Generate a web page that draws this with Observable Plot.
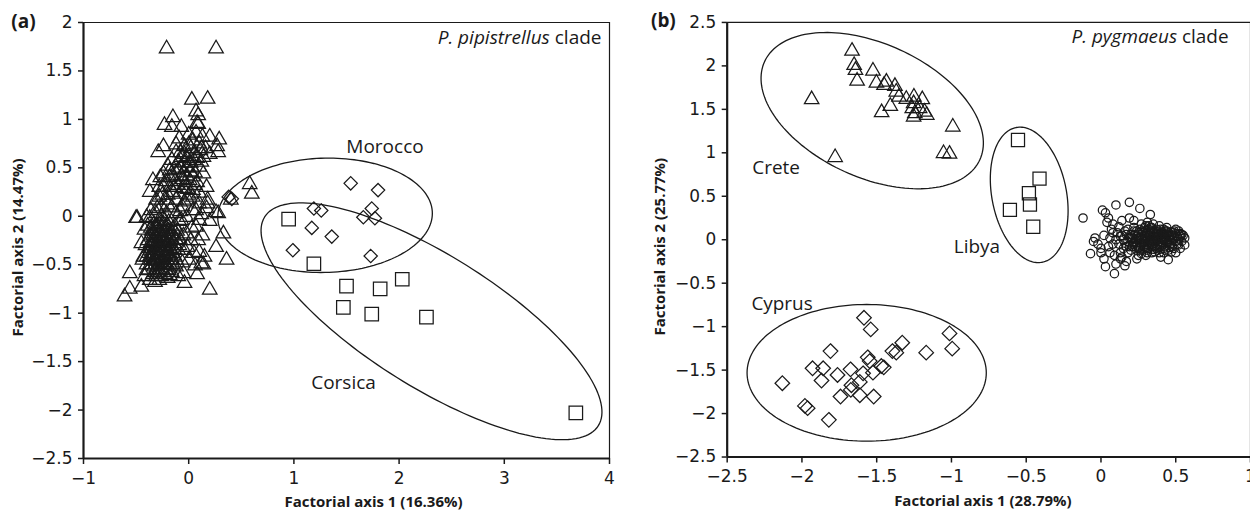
<!DOCTYPE html>
<html>
<head>
<meta charset="utf-8">
<script src="https://cdn.jsdelivr.net/npm/d3@7"></script>
<script src="https://cdn.jsdelivr.net/npm/@observablehq/plot@0.6"></script>
<style>
  html, body { margin: 0; padding: 0; background: #fff; }
  #wrap { position: relative; width: 1250px; height: 511px; overflow: hidden; background: #fff; }
  #panelA { position: absolute; left: 0; top: 0; }
  #panelB { position: absolute; left: 625px; top: 0; }
</style>
</head>
<body>
<div id="wrap"><div id="panelA"></div><div id="panelB"></div></div>
<script>
// ---------- Panel (a): P. pipistrellus clade ----------
const xTicksA = [-1, 0, 1, 2, 3, 4];
const yTicksA = [-2.5, -2, -1.5, -1, -0.5, 0, 0.5, 1, 1.5, 2];

// triangles (main group)
const pipTriangles = [
  [-0.21,1.73],[0.26,1.73],
  [0.03,1.20],[0.18,1.21],[0.07,1.08],[0.09,1.04],[0.08,0.96],[-0.15,1.02],[-0.23,0.94],[-0.16,0.92],
  [-0.07,0.92],[0.09,0.95],[0.20,0.82],[0.29,0.79],[0.28,0.66],[0.27,0.72],[-0.24,0.72],[-0.29,0.66],
  [-0.09,0.80],[-0.04,0.72],[0.10,0.75],[0.06,0.65],[0.14,0.61],[0.11,0.68],[-0.16,0.58],[-0.07,0.61],
  [-0.02,0.51],[0.10,0.51],[-0.12,0.66],[0.00,0.84],[0.04,0.78],
  [-0.02,0.60],[0.02,0.55],[0.06,0.45],[-0.05,0.45],[0.12,0.56],[0.16,0.70],[0.20,0.64],[0.13,0.82],
  [-0.10,0.56],[-0.18,0.47],
  [-0.08,0.50],[-0.04,0.55],[0.00,0.62],[0.03,0.50],[0.05,0.58],[-0.06,0.38],[-0.02,0.42],[0.01,0.37],
  [0.06,0.32],[-0.10,0.32],[-0.14,0.30],[-0.08,0.66],[0.02,0.70],[0.08,0.60],[-0.01,0.28],[0.04,0.20],
  [-0.04,0.15],[-0.08,0.05],[-0.18,0.40],[-0.24,0.30],[-0.20,0.22],[-0.28,0.20],[-0.30,0.08],[-0.20,0.12],
  [-0.14,0.48],[0.07,0.86],[0.12,0.70],[0.00,0.74],[-0.12,0.74],[-0.04,0.64],
  [-0.34,0.37],[-0.24,0.44],[-0.15,0.42],[-0.07,0.41],[0.04,0.41],[0.14,0.44],[-0.37,0.25],[-0.28,0.30],
  [-0.18,0.30],[-0.05,0.29],[0.04,0.27],[0.17,0.30],[0.18,0.17],[0.26,0.04],[0.10,0.13],[-0.01,0.17],
  [-0.12,0.17],[-0.21,0.17],[-0.31,0.17],[-0.49,-0.02],[-0.40,-0.01],[-0.31,0.03],[-0.21,0.03],
  [-0.12,0.03],[-0.02,-0.01],[0.07,0.06],[0.17,0.08],[-0.20,0.52],[-0.10,0.48],[0.02,0.46],[-0.27,0.40],
  [-0.22,0.36],[-0.13,0.36],[-0.03,0.35],[0.08,0.35],[-0.09,0.23],[0.00,0.22],[0.10,0.24],[-0.25,0.22],
  [-0.15,0.25],[0.12,0.02],[0.04,0.06],[-0.06,0.10],[-0.16,0.09],[-0.26,0.10],[-0.36,0.06],
  [0.40,0.17],[0.58,0.33],[0.60,0.23],[0.36,-0.45],[0.33,-0.18],[0.26,-0.32],[0.28,0.03],[0.20,-0.76],
  [0.12,-0.49],[0.06,-0.51],[0.10,-0.37],[0.09,-0.25],[0.07,-0.11],[0.10,-0.04],[0.18,0.13],
  [-0.56,-0.59],[-0.56,-0.75],[-0.61,-0.83],[-0.45,-0.73],[-0.28,-0.66],[-0.04,-0.69],[-0.05,-0.59],
  [-0.12,-0.45],[-0.01,-0.32],[-0.02,-0.18],[-0.07,-0.04],[-0.18,-0.61],[-0.40,-0.56],[-0.43,-0.42],
  [-0.45,-0.28],[-0.42,-0.14],[-0.37,-0.02],[-0.50,-0.02],
  [-0.40,-0.50],[-0.36,-0.45],[-0.33,-0.52],[-0.30,-0.40],[-0.27,-0.48],[-0.25,-0.35],[-0.22,-0.42],
  [-0.20,-0.30],[-0.18,-0.50],[-0.15,-0.38],[-0.35,-0.30],[-0.32,-0.22],[-0.29,-0.15],[-0.26,-0.25],
  [-0.23,-0.18],[-0.20,-0.10],[-0.17,-0.22],[-0.14,-0.28],[-0.38,-0.38],[-0.34,-0.60],[-0.30,-0.58],
  [-0.26,-0.62],[-0.22,-0.55],[-0.16,-0.58],[-0.12,-0.52],[-0.10,-0.35],[-0.08,-0.25],[-0.11,-0.15],
  [-0.28,-0.32],[-0.31,-0.28],[-0.24,-0.28],[-0.27,-0.40],[-0.33,-0.38],[-0.36,-0.20],[-0.39,-0.10],
  [-0.33,-0.08],[-0.27,-0.05],[-0.24,-0.08],[-0.21,-0.22],[-0.19,-0.38],[-0.16,-0.45],[-0.29,-0.50],
  [-0.25,-0.55],[-0.41,-0.30],[-0.44,-0.45],[-0.42,-0.62],[-0.37,-0.66],[-0.32,-0.68],[-0.28,-0.20],
  [-0.25,-0.12],[-0.30,-0.10],[-0.35,-0.15],[-0.31,-0.45],[-0.23,-0.32],[-0.19,-0.15],[-0.13,-0.10],
  [-0.09,-0.05],[-0.26,0.00],[-0.30,-0.35],[-0.22,-0.48],
  [-0.38,-0.55],[-0.35,-0.50],[-0.32,-0.46],[-0.29,-0.43],[-0.26,-0.44],[-0.23,-0.40],[-0.21,-0.36],
  [-0.18,-0.33],[-0.37,-0.42],[-0.34,-0.35],[-0.31,-0.33],[-0.28,-0.27],[-0.25,-0.22],[-0.22,-0.25],
  [-0.19,-0.20],[-0.16,-0.18],[-0.39,-0.25],[-0.36,-0.27],[-0.33,-0.18],[-0.30,-0.22],[-0.27,-0.15],
  [-0.24,-0.16],[-0.21,-0.13],[-0.18,-0.26],[-0.35,-0.40],[-0.32,-0.58],[-0.28,-0.55],[-0.24,-0.50],
  [-0.20,-0.45],[-0.17,-0.40],[-0.14,-0.34],[-0.12,-0.24],[-0.40,-0.42],[-0.37,-0.33],[-0.34,-0.26],
  [-0.30,-0.30],[-0.26,-0.36],[-0.23,-0.27],[-0.20,-0.38],[-0.17,-0.30],[-0.33,-0.44],[-0.29,-0.38],
  [-0.26,-0.30],[-0.24,-0.42],[-0.21,-0.50],[-0.19,-0.56],[-0.15,-0.50],[-0.13,-0.42],[-0.36,-0.12],
  [-0.32,-0.12],[-0.28,-0.09],[-0.23,-0.04],[-0.19,-0.06],[-0.15,-0.13],[-0.11,-0.20],[-0.09,-0.30],
  [-0.31,-0.62],[-0.27,-0.58],[-0.23,-0.60],[-0.20,-0.64],[-0.29,-0.25],[-0.25,-0.20],[-0.22,-0.32],
  [-0.27,-0.33],
  [0.00,-0.45],[0.02,-0.25],[-0.04,-0.35],[0.03,-0.12],[-0.05,-0.20],[-0.06,-0.48],[0.05,-0.38],
  [0.15,-0.42],[0.08,-0.60],[-0.10,-0.62],[0.13,-0.20],[0.20,-0.05],[0.14,-0.50]
];
// diamonds (Morocco)
const moroccoDiamonds = [
  [1.54,0.34],[1.80,0.27],[1.19,0.08],[1.26,0.06],[1.74,0.08],[1.66,-0.01],[1.77,-0.02],
  [1.17,-0.12],[1.36,-0.21],[0.99,-0.35],[1.73,-0.41],[0.38,0.20],[0.41,0.18]
];
// squares (Corsica)
const corsicaSquares = [
  [0.95,-0.03],[1.19,-0.49],[1.50,-0.72],[1.82,-0.75],[2.03,-0.65],[1.47,-0.94],[1.74,-1.01],
  [2.26,-1.04],[3.68,-2.03]
];
// ellipses: centre and two half-axis vectors, data units
const ellipsesA = [
  {cx: 1.296, cy: 0.01, ux: 1.02, uy: 0.02, vx: 0, vy: 0.59},
  {cx: 2.308, cy: -1.084, ux: 1.586, uy: -1.077, vx: -0.332, vy: -0.578}
];
const labelsA = [
  {x: 1.866, y: 0.712, text: "Morocco"},
  {x: 1.472, y: -1.723, text: "Corsica"}
];

// ---------- Panel (b): P. pygmaeus clade ----------
const xTicksB = [-2.5, -2, -1.5, -1, -0.5, 0, 0.5, 1];
const yTicksB = [-2.5, -2, -1.5, -1, -0.5, 0, 0.5, 1, 1.5, 2, 2.5];

const creteTriangles = [
  [-1.665,2.171],[-1.651,2.007],[-1.642,1.950],[-1.631,1.827],[-1.935,1.614],[-1.778,0.948],
  [-1.525,1.942],[-1.502,1.804],[-1.435,1.815],[-1.451,1.778],[-1.378,1.766],[-1.369,1.701],
  [-1.351,1.643],[-1.302,1.617],[-1.251,1.643],[-1.195,1.614],[-1.253,1.568],[-1.262,1.510],
  [-1.245,1.453],[-1.180,1.471],[-1.165,1.434],[-1.253,1.414],[-1.409,1.537],[-1.467,1.464],
  [-0.991,1.299],[-1.053,0.994],[-1.013,0.986],[-1.213,1.510]
];
const libyaSquares = [
  [-0.555,1.147],[-0.411,0.703],[-0.482,0.535],[-0.475,0.405],[-0.609,0.344],[-0.453,0.149]
];
const cyprusDiamonds = [
  [-1.585,-0.898],[-1.540,-1.032],[-1.013,-1.078],[-0.995,-1.253],[-1.329,-1.185],[-1.395,-1.281],
  [-1.369,-1.299],[-1.169,-1.299],[-1.809,-1.281],[-1.547,-1.396],[-1.469,-1.453],[-1.929,-1.479],
  [-1.858,-1.479],[-1.675,-1.491],[-1.762,-1.556],[-1.591,-1.537],[-1.525,-1.529],[-2.131,-1.651],
  [-1.869,-1.620],[-1.613,-1.636],[-1.669,-1.674],[-1.673,-1.728],[-1.613,-1.789],[-1.742,-1.804],
  [-1.520,-1.804],[-1.980,-1.912],[-1.962,-1.938],[-1.820,-2.072],[-1.560,-1.353],[-1.453,-1.468]
];
const mainCircles = [
  [-0.12,0.25],[0.01,0.34],[0.10,0.40],[0.19,0.43],[0.26,0.36],[0.33,0.29],[0.19,0.25],[0.03,0.31],
  [0.05,0.25],[-0.07,-0.16],[0.03,-0.31],[0.09,-0.39],[0.45,-0.23],[-0.04,0.02],[0.12,0.15],[0.56,0.02],
  [0.56,-0.06],[-0.05,-0.02],[0.02,0.05],[0.00,-0.10],[0.06,-0.15],[0.08,0.08],[0.13,-0.22],[0.17,-0.25],
  [0.24,-0.22],[0.30,-0.18],
  [0.10,0.00],[0.12,-0.05],[0.14,0.05],[0.15,-0.10],[0.16,0.10],[0.18,-0.02],[0.18,-0.15],[0.20,0.06],
  [0.21,-0.08],[0.22,0.14],[0.23,0.00],[0.24,-0.12],[0.25,0.08],[0.26,-0.04],[0.27,0.18],[0.27,-0.16],
  [0.28,0.03],[0.29,-0.08],[0.30,0.10],[0.30,-0.02],[0.31,0.20],[0.31,-0.12],[0.32,0.05],[0.33,-0.05],
  [0.33,0.14],[0.34,-0.15],[0.35,0.00],[0.35,0.08],[0.36,-0.08],[0.37,0.12],[0.37,-0.02],[0.38,0.04],
  [0.38,-0.12],[0.39,0.16],[0.40,-0.05],[0.40,0.08],[0.41,0.00],[0.42,-0.10],[0.42,0.12],[0.43,0.03],
  [0.44,-0.04],[0.45,0.08],[0.45,-0.12],[0.46,0.00],[0.47,0.05],[0.48,-0.08],[0.49,0.10],[0.50,-0.02],
  [0.51,0.04],[0.52,-0.06],[0.53,0.07],[0.54,-0.02],[0.29,0.14],[0.26,0.12],[0.24,0.04],[0.22,-0.04],
  [0.20,-0.12],[0.32,-0.10],[0.34,0.10],[0.36,0.04],[0.39,-0.02],[0.41,0.06],[0.43,-0.08],[0.28,-0.12],
  [0.25,-0.18],[0.22,0.10],[0.19,0.02],[0.17,0.06],[0.13,-0.15],[0.11,0.08],[0.08,-0.05],[0.06,0.02],
  [0.05,-0.08],[0.07,0.12],[0.09,-0.18],[0.14,-0.20],[0.30,0.04],[0.33,0.00],[0.36,-0.14],[0.38,0.09],
  [0.44,0.14],[0.47,-0.14],[0.50,0.12],[0.35,0.18],[0.28,0.08],[0.31,-0.06],[0.34,0.03],[0.37,0.07],
  [0.40,0.02],[0.43,-0.01],[0.46,-0.06],[0.48,0.03],[0.52,0.10],[0.55,0.05],[0.53,-0.10],[0.27,0.00],
  [0.24,-0.06],[0.21,0.02],[0.18,0.12],[0.16,-0.04],[0.26,-0.08],[0.32,0.16],[0.29,-0.02],[0.38,-0.06],
  [0.42,0.00],[0.44,0.06],[0.08,0.18],[0.04,0.20],[0.14,0.22],[0.22,0.22],[0.00,-0.15],[-0.02,-0.05],
  [0.02,-0.22],[0.10,-0.28],[0.16,-0.30],[0.40,-0.20],[0.50,-0.15],
  [0.22,-0.02],[0.23,0.06],[0.25,-0.10],[0.26,0.02],[0.27,-0.06],[0.28,0.10],[0.29,0.05],[0.30,-0.10],
  [0.31,0.02],[0.32,-0.03],[0.33,0.08],[0.34,-0.08],[0.35,0.04],[0.35,-0.04],[0.36,0.10],[0.37,-0.10],
  [0.38,0.00],[0.39,0.06],[0.39,-0.09],[0.40,0.12],[0.41,-0.03],[0.41,0.09],[0.42,0.04],[0.43,-0.12],
  [0.44,0.00],[0.44,0.10],[0.45,-0.02],[0.46,0.04],[0.46,-0.09],[0.47,0.09],[0.48,-0.01],[0.49,0.05],
  [0.49,-0.10],[0.50,0.07],[0.51,-0.05],[0.52,0.01],[0.53,0.04],[0.54,0.06],[0.31,0.08],[0.29,0.00],
  [0.27,0.06],[0.25,0.02],[0.24,0.10],[0.23,-0.08],[0.21,-0.05],[0.20,0.02],[0.19,-0.08],[0.33,0.05],
  [0.34,-0.02],[0.36,0.00],[0.37,0.03],[0.38,0.07],[0.40,-0.08],[0.42,0.07],[0.43,0.10],[0.45,0.03],
  [0.47,-0.04],[0.48,0.08],[0.32,0.12],[0.30,0.16],[0.34,0.14],[0.28,-0.04],[0.26,-0.12],[0.31,-0.15],
  [0.35,-0.11],[0.39,-0.15],[0.42,-0.15],[0.15,0.00],[0.13,0.04],[0.17,-0.08]
];
const ellipsesB = [
  {cx: -1.530, cy: 1.485, ux: 0.720, uy: -0.564, vx: -0.1855, vy: -0.700},
  {cx: -0.480, cy: 0.516, ux: 0.0873, uy: -0.775, vx: -0.245, vy: -0.0814},
  {cx: -1.567, cy: -1.531, ux: 0.80, uy: 0, vx: 0, vy: 0.786}
];
const labelsB = [
  {x: -2.173, y: 0.826, text: "Crete"},
  {x: -0.83, y: -0.08, text: "Libya"},
  {x: -2.133, y: -0.734, text: "Cyprus"}
];

// ---------- helpers ----------
const INK = "#1a1a1a";
const fmt = d => (d < 0 ? "\u2212" : "") + Math.abs(d);
function outline(e, k) {
  const pts = [];
  for (let i = 0; i <= 160; i++) {
    const t = 2 * Math.PI * i / 160;
    pts.push({x: e.cx + e.ux * Math.cos(t) + e.vx * Math.sin(t),
              y: e.cy + e.uy * Math.cos(t) + e.vy * Math.sin(t), k});
  }
  return pts;
}
const dots = (data, symbol, r) => Plot.dot(data, {
  x: d => d[0], y: d => d[1], symbol, r, fill: "none", stroke: INK, strokeWidth: 1.25
});

function panel(o) {
  const [x0, x1] = o.xDomain, [y0, y1] = o.yDomain;
  const ell = o.ellipses.flatMap((e, i) => outline(e, i));
  return Plot.plot({
    width: o.width, height: 511,
    marginLeft: o.ml, marginRight: o.mr, marginTop: 22, marginBottom: 53,
    x: {domain: o.xDomain}, y: {domain: o.yDomain},
    style: {fontFamily: "'Open Sans', sans-serif", fontSize: "17px", color: INK, background: "transparent", overflow: "visible"},
    marks: [
      Plot.line(ell, {x: "x", y: "y", z: "k", stroke: INK, strokeWidth: 1.3}),
      ...o.points,
      Plot.text(o.labels, {x: "x", y: "y", text: "text", fontSize: 19, fill: INK}),
      Plot.ruleY([y1], {stroke: INK, strokeWidth: 1.2}),
      Plot.ruleX([x1], {stroke: INK, strokeWidth: 1.2}),
      Plot.ruleX([x0], {stroke: INK, strokeWidth: 2.2}),
      Plot.ruleY([y0], {stroke: INK, strokeWidth: 2.2}),
      Plot.axisX({ticks: o.xTicks, tickSize: 6, tickPadding: 7, tickFormat: fmt, label: null, strokeWidth: 1.5,
                  fontFamily: "'DejaVu Sans', sans-serif", fontSize: 17}),
      Plot.axisY({ticks: o.yTicks, tickSize: 5, tickPadding: 6, tickFormat: fmt, label: null, strokeWidth: 1.5,
                  fontFamily: "'DejaVu Sans', sans-serif", fontSize: 17}),
      Plot.text([o.xTitle], {frameAnchor: "bottom", dx: o.xTitleDx, dy: 44, fontWeight: "bold", fontSize: 15, lineAnchor: "middle"}),
      Plot.text([o.yTitle], {frameAnchor: "left", dx: o.yTitleDx, dy: 7, rotate: -90, textAnchor: "middle", fontWeight: "bold", fontSize: 15, lineAnchor: "middle"}),
      Plot.text([o.tag], {frameAnchor: "top-left", dx: o.tagDx, dy: -1, textAnchor: "middle", lineAnchor: "middle", fontWeight: "bold", fontSize: 19}),
      Plot.text([o.clade], {frameAnchor: "top-right", dx: o.cladeDx, dy: 15, textAnchor: "end", lineAnchor: "middle", fontSize: 19})
    ]
  });
}

function italicize(svg, full, italicPart, rest) {
  svg.querySelectorAll("text").forEach(t => {
    if (t.textContent === full) {
      t.textContent = "";
      const ns = "http://www.w3.org/2000/svg";
      const a = document.createElementNS(ns, "tspan");
      a.setAttribute("font-style", "italic");
      a.textContent = italicPart;
      const b = document.createElementNS(ns, "tspan");
      b.textContent = rest;
      t.append(a, b);
    }
  });
}

const svgA = panel({
  width: 625, ml: 83, mr: 16,
  xDomain: [-1, 4], yDomain: [-2.5, 2], xTicks: xTicksA, yTicks: yTicksA,
  ellipses: ellipsesA, labels: labelsA,
  points: [dots(pipTriangles, "triangle", 5.4), dots(moroccoDiamonds, "diamond2", 6.0), dots(corsicaSquares, "square", 7.6)],
  xTitle: "Factorial axis 1 (16.36%)", xTitleDx: 27,
  yTitle: "Factorial axis 2 (14.47%)", yTitleDx: -65,
  tag: "(a)", tagDx: -60,
  clade: "P. pipistrellus clade", cladeDx: -8
});
italicize(svgA, "P. pipistrellus clade", "P. pipistrellus", " clade");
document.getElementById("panelA").append(svgA);

const svgB = panel({
  width: 627, ml: 102, mr: 0,
  xDomain: [-2.5, 1], yDomain: [-2.5, 2.5], xTicks: xTicksB, yTicks: yTicksB,
  ellipses: ellipsesB, labels: labelsB,
  points: [dots(creteTriangles, "triangle", 5.4), dots(libyaSquares, "square", 7.4), dots(cyprusDiamonds, "diamond2", 6.6), dots(mainCircles, "circle", 4.2)],
  xTitle: "Factorial axis 1 (28.79%)", xTitleDx: -6,
  yTitle: "Factorial axis 2 (25.77%)", yTitleDx: -67,
  tag: "(b)", tagDx: -64,
  clade: "P. pygmaeus clade", cladeDx: -22
});
italicize(svgB, "P. pygmaeus clade", "P. pygmaeus", " clade");
document.getElementById("panelB").append(svgB);
</script>
</body>
</html>
